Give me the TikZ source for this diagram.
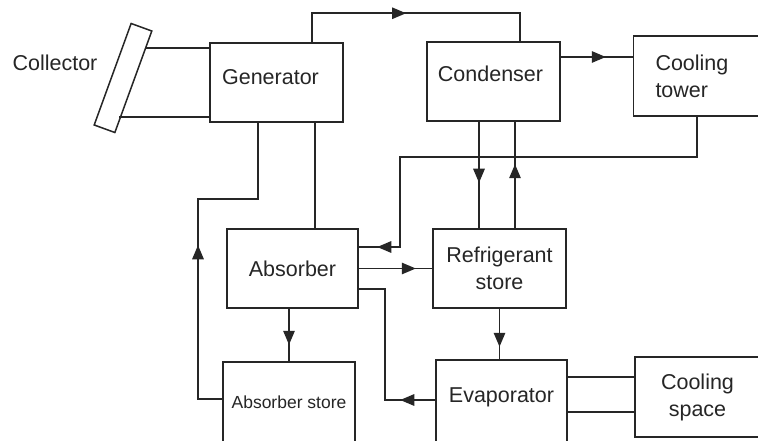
\documentclass[tikz,border=0pt]{standalone}
\usepackage{fontspec}
\setmainfont{Liberation Sans}
\usetikzlibrary{arrows.meta,decorations.markings}
\definecolor{ink}{HTML}{262626}
\tikzset{
  box/.style={draw=ink, line width=1.5pt, rectangle, inner sep=2pt, align=center, font=\fontsize{21.5}{27}\selectfont, text=ink},
  lbl/.style={text=ink, font=\fontsize{21.5}{27}\selectfont, align=center},
  flow/.style={draw=ink, line width=1.5pt},
  arrowat/.style={postaction={decorate}, decoration={markings, mark=at position #1 with {\arrow{Triangle[length=14pt,width=11.5pt]}}}}
}
\begin{document}
\begin{tikzpicture}[x=1pt,y=-1pt]
\clip (0,0) rectangle (758,441);
\fill[white] (0,0) rectangle (758,441);
% nodes
\node[box, minimum width=22pt, minimum height=108pt, rotate=-20] (coll) at (123,78) {};
\node[lbl] (colllabel) at (55,63) {Collector};
\node[box, minimum width=133pt, minimum height=79pt, label={[lbl, shift={(-6,-5)}]center:Generator}] (gen) at (276.5,82.5) {};
\node[box, minimum width=133pt, minimum height=79pt, label={[lbl, shift={(-3,-8)}]center:Condenser}] (cond) at (493.5,81.5) {};
\node[box, minimum width=127pt, minimum height=80pt, label={[lbl, shift={(-4,0)}]center:{\makebox[75pt][l]{Cooling}\\\makebox[75pt][l]{tower}}}] (ct) at (697,76) {};
\node[box, minimum width=131pt, minimum height=79pt] (abs) at (292.5,268.5) {Absorber};
\node[box, minimum width=133pt, minimum height=79pt] (rs) at (499.5,268.5) {Refrigerant\\store};
\node[box, minimum width=132pt, minimum height=86pt, label={[text=ink, font=\fontsize{17.5}{20}\selectfont, shift={(0,-3)}]center:Absorber store}] (as) at (289,405) {};
\node[box, minimum width=131pt, minimum height=84pt, label={[lbl, shift={(0,-5)}]center:Evaporator}] (ev) at (501.5,402) {};
\node[box, minimum width=125pt, minimum height=80pt] (cs) at (697.5,397) {Cooling\\space};
% collector pipes
\coordinate (c1) at (146,48);
\coordinate (c2) at (119,117);
\draw[flow] (c1) -- (gen.west |- c1);
\draw[flow] (c2) -- (gen.west |- c2);
% generator -> condenser
\draw[flow, arrowat=123pt] ([xshift=35.5pt]gen.north) -- ++(0,-29) -| ([xshift=26.5pt]cond.north);
% condenser -> cooling tower
\draw[flow, arrowat=45pt] ([yshift=24.5pt]cond.east) -- ([yshift=24.5pt]cond.east -| ct.west);
% cooling tower -> absorber
\draw[flow, arrowat=450pt] (ct.south) |- (400,157) |- ([yshift=21.5pt]abs.east);
% condenser <-> refrigerant store
\draw[flow, arrowat=61pt] ([xshift=-14.5pt]cond.south) -- ([xshift=-14.5pt]cond.south |- rs.north);
\draw[flow, arrowat=64pt] ([xshift=21.5pt]cond.south |- rs.north) -- ([xshift=21.5pt]cond.south);
% absorber -> refrigerant store
\draw[flow, arrowat=57pt] (abs.east) -- (abs.east -| rs.west);
% evaporator -> absorber
\draw[flow, arrowat=35pt] (ev.west |- 0,400) -| (385,289) -- ([yshift=-20.5pt]abs.east);
% refrigerant store -> evaporator
\draw[flow, arrowat=38pt] (rs.south) -- (rs.south |- ev.north);
% evaporator - cooling space
\draw[flow] (ev.east |- 0,377) -- (cs.west |- 0,377);
\draw[flow] (ev.east |- 0,412) -- (cs.west |- 0,412);
% absorber -> absorber store
\draw[flow, arrowat=36pt] (as.north |- abs.south) -- (as.north);
% absorber store -> generator
\draw[flow, arrowat=178pt] (as.west |- 0,399) -| (198,199) -| ([xshift=-18.5pt]gen.south);
% generator - absorber
\draw[flow] ([xshift=38.5pt]gen.south) -- ([xshift=38.5pt]gen.south |- abs.north);
\end{tikzpicture}
\end{document}
